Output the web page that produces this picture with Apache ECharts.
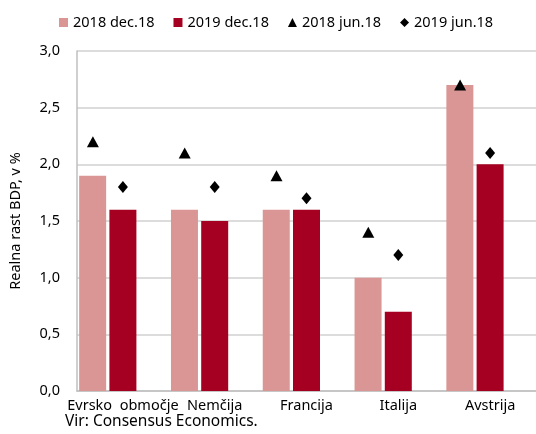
<!DOCTYPE html>
<html>
<head>
<meta charset="utf-8">
<script src="https://cdn.jsdelivr.net/npm/echarts@6/dist/echarts.min.js"></script>
<style>
  html, body { margin: 0; padding: 0; background: #fff; }
  #chart { width: 536px; height: 434px; }
</style>
</head>
<body>
<div id="chart"></div>
<script>
const categories = ['Evrsko  območje', 'Nemčija', 'Francija', 'Italija', 'Avstrija'];
const dec18_2018 = [1.9, 1.6, 1.6, 1.0, 2.7];
const dec18_2019 = [1.6, 1.5, 1.6, 0.7, 2.0];
const jun18_2018 = [2.2, 2.1, 1.9, 1.4, 2.7];
const jun18_2019 = [1.8, 1.8, 1.7, 1.2, 2.1];
const yTicks = [0, 0.5, 1, 1.5, 2, 2.5, 3];

const font = 'Noto Sans';
const chart = echarts.init(document.getElementById('chart'));

chart.setOption({
  animation: false,
  textStyle: { fontFamily: font },
  grid: { left: 75, right: 0, top: 51, bottom: 43 },
  legend: {
    top: 10,
    left: 54,
    itemGap: 19,
    itemWidth: 9,
    itemHeight: 9,
    textStyle: { fontSize: 14.5, color: '#000', fontFamily: font },
    data: [
      { name: '2018 dec.18', icon: 'rect' },
      { name: '2019 dec.18', icon: 'rect' },
      { name: '2018 jun.18', icon: 'triangle' },
      { name: '2019 jun.18', icon: 'diamond' }
    ]
  },
  xAxis: {
    type: 'category',
    data: categories,
    axisLine: { lineStyle: { color: '#bfbfbf', width: 1.5 } },
    axisTick: { show: false },
    axisLabel: { color: '#000', fontSize: 14.5, margin: 7, interval: 0 }
  },
  yAxis: {
    type: 'value',
    min: 0,
    max: 3,
    interval: 0.5,
    name: 'Realna rast BDP, v %',
    nameLocation: 'middle',
    nameGap: 54,
    nameTextStyle: { fontSize: 14.5, color: '#000' },
    axisLine: { show: true, lineStyle: { color: '#bfbfbf', width: 1.5 } },
    axisTick: { show: false },
    axisLabel: {
      color: '#000',
      fontSize: 14.5,
      margin: 17,
      formatter: v => yTicks.includes(v) ? v.toFixed(1).replace('.', ',') : ''
    },
    splitLine: { lineStyle: { color: '#d0d0d0', width: 1.5 } }
  },
  series: [
    {
      name: '2018 dec.18',
      type: 'bar',
      data: dec18_2018,
      barWidth: 27,
      barGap: '12%',
      itemStyle: { color: '#d99694' }
    },
    {
      name: '2019 dec.18',
      type: 'bar',
      data: dec18_2019,
      barWidth: 27,
      barGap: '12%',
      itemStyle: { color: '#a50021' }
    },
    {
      name: 'spacer',
      type: 'bar',
      data: categories.map(() => null),
      barWidth: 27,
      barGap: '12%'
    },
    {
      name: '2018 jun.18',
      type: 'scatter',
      data: jun18_2018,
      symbol: 'triangle',
      symbolSize: [12, 11],
      symbolOffset: [-30, 0],
      itemStyle: { color: '#000', opacity: 1 },
      z: 5
    },
    {
      name: '2019 jun.18',
      type: 'scatter',
      data: jun18_2019,
      symbol: 'diamond',
      symbolSize: [10, 12],
      itemStyle: { color: '#000', opacity: 1 },
      z: 5
    }
  ],
  graphic: [{
    type: 'text',
    left: 65,
    top: 414,
    style: { text: 'Vir: Consensus Economics.', fontSize: 15.5, fill: '#000', fontFamily: font }
  }]
});
</script>
</body>
</html>
